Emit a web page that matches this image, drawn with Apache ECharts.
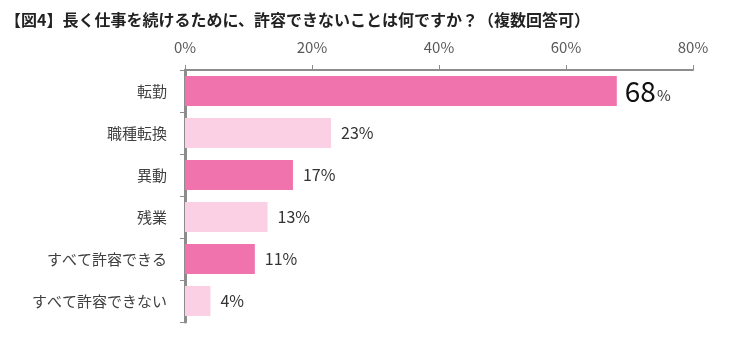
<!DOCTYPE html>
<html>
<head>
<meta charset="utf-8">
<script src="https://cdn.jsdelivr.net/npm/echarts@6/dist/echarts.min.js"></script>
<style>
  html, body { margin: 0; padding: 0; background: #fff; }
  #chart { width: 734px; height: 342px; }
</style>
</head>
<body>
<div id="chart"></div>
<script>
// Survey answers, top to bottom
const categories = ['転勤', '職種転換', '異動', '残業', 'すべて許容できる', 'すべて許容できない'];
const values = [68, 23, 17, 13, 11, 4];
const tickValues = [0, 20, 40, 60, 80];

const darkPink = '#F173AD';
const lightPink = '#FBCFE4';
const fontFamily = '"Noto Sans CJK JP", "Noto Sans", sans-serif';

const chart = echarts.init(document.getElementById('chart'));

const seriesData = values.map((v, i) => {
  const item = {
    value: v,
    itemStyle: { color: i % 2 === 0 ? darkPink : lightPink }
  };
  if (i === 0) {
    // the leading answer gets an oversized number
    item.label = {
      distance: 8,
      formatter: '{big|{c}}{small|%}',
      rich: {
        big: { fontSize: 28, color: '#111', fontFamily: fontFamily, padding: [0, 1, 0, 0] },
        small: { fontSize: 15, color: '#333', fontFamily: fontFamily, padding: [8, 0, 0, 0] }
      }
    };
  }
  return item;
});

chart.setOption({
  animation: false,
  title: {
    text: '【図4】長く仕事を続けるために、許容できないことは何ですか？（複数回答可）',
    left: 0,
    top: 7,
    textStyle: { fontSize: 16, fontWeight: 'bold', color: '#222', fontFamily: fontFamily }
  },
  grid: { left: 185, right: 41, top: 70, bottom: 20, containLabel: false },
  xAxis: {
    type: 'value',
    position: 'top',
    min: tickValues[0],
    max: tickValues[tickValues.length - 1],
    interval: 20,
    axisLine: { show: true, lineStyle: { color: '#8c8c8c', width: 2 } },
    axisTick: { show: true, length: 5, lineStyle: { color: '#8c8c8c', width: 1 } },
    axisLabel: {
      formatter: '{value}%',
      color: '#595959',
      fontSize: 15,
      fontFamily: fontFamily,
      margin: 15
    },
    splitLine: { show: false }
  },
  yAxis: {
    type: 'category',
    inverse: true,
    data: categories,
    axisLine: { show: true, lineStyle: { color: '#8c8c8c', width: 3 } },
    axisTick: { show: true, length: 5, lineStyle: { color: '#8c8c8c', width: 1 } },
    axisLabel: {
      color: '#404040',
      fontSize: 15,
      fontFamily: fontFamily,
      margin: 18
    }
  },
  series: [{
    type: 'bar',
    data: seriesData,
    barWidth: 30,
    label: {
      show: true,
      position: 'right',
      distance: 10,
      formatter: '{c}%',
      fontSize: 16,
      color: '#333',
      fontFamily: fontFamily
    }
  }]
});
</script>
</body>
</html>
